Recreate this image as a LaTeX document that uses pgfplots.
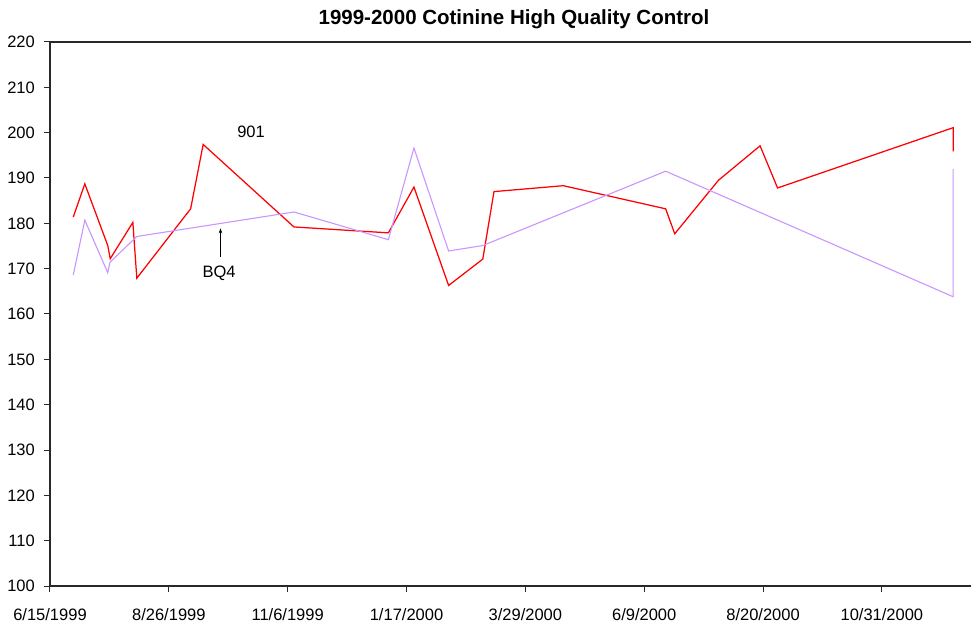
\documentclass[border=0pt]{standalone}
\usepackage{fontspec}
\setmainfont{Liberation Sans}
\usepackage{pgfplots}
\pgfplotsset{compat=1.18}
\usetikzlibrary{arrows.meta}
\definecolor{qcred}{RGB}{255,0,0}
\definecolor{qcpurple}{RGB}{200,150,255}
\definecolor{axgray}{RGB}{40,40,40}
\begin{document}
\begin{tikzpicture}[x=1pt,y=1pt]
\begin{axis}[
  at={(0,0)}, anchor=south west,
  scale only axis,
  width=921pt, height=544pt,
  xmin=0, xmax=558, ymin=100, ymax=220,
  axis x line*=bottom, axis y line*=left,
  axis line style={-, line width=1.6pt, color=axgray},
  tick align=outside,
  major tick length=6pt,
  tick style={line width=1pt, color=axgray},
  xtick={0,72,144,216,288,360,432,504},
  xticklabels={6/15/1999,8/26/1999,11/6/1999,1/17/2000,3/29/2000,6/9/2000,8/20/2000,10/31/2000},
  ytick={100,110,...,220},
  /pgf/number format/assume math mode=true,
  tick label style={font=\fontsize{16.5}{19}\selectfont, inner sep=0pt},
  xticklabel style={anchor=base, yshift=-28pt},
  yticklabel style={anchor=east, xshift=-9pt},
  clip=false,
]
\addplot[color=qcred, line width=1.25pt, line join=miter] coordinates {
(14.1,181.4) (21.1,188.7) (35,175.1) (36.5,172.2) (50.2,180.2) (52.6,167.9)
(85.2,183.2) (92.8,197.4) (147.8,179.2) (205,177.9) (220.5,188.0) (241.5,166.3)
(262.2,172.1) (269,187.0) (311,188.3) (373,183.2) (378.5,177.7) (405,189.5)
(430.2,197.1) (440.8,187.8) (547.2,201.1) (547.2,195.9)
};
\addplot[color=qcpurple, line width=1.1pt] coordinates {
(14.1,168.6) (21.1,180.7) (35,169.1) (36.3,171.4) (52.6,177.1) (147.8,182.5)
(205,176.4) (220.5,196.6) (241.5,173.9) (262.2,175.1) (373,191.5)
(547.2,163.8) (547.2,192.0)
};
\node[font=\fontsize{16.5}{19}\selectfont] at (axis cs:121.8,200.2) {901};
\node[font=\fontsize{16.5}{19}\selectfont] at (axis cs:102.4,169.0) {BQ4};
\draw[-{Stealth[length=5pt,width=3.5pt]}, line width=0.9pt] (axis cs:103.3,172.6) -- (axis cs:103.3,178.9);
\draw[line width=1.4pt, color=axgray] (rel axis cs:0,1) -- (rel axis cs:1,1);
\end{axis}
\node[font=\bfseries\fontsize{20.5}{24}\selectfont, anchor=base] at (464,561) {1999-2000 Cotinine High Quality Control};
\pgfresetboundingbox
\path[use as bounding box] (-50,-38) rectangle (921,586);
\end{tikzpicture}
\end{document}
